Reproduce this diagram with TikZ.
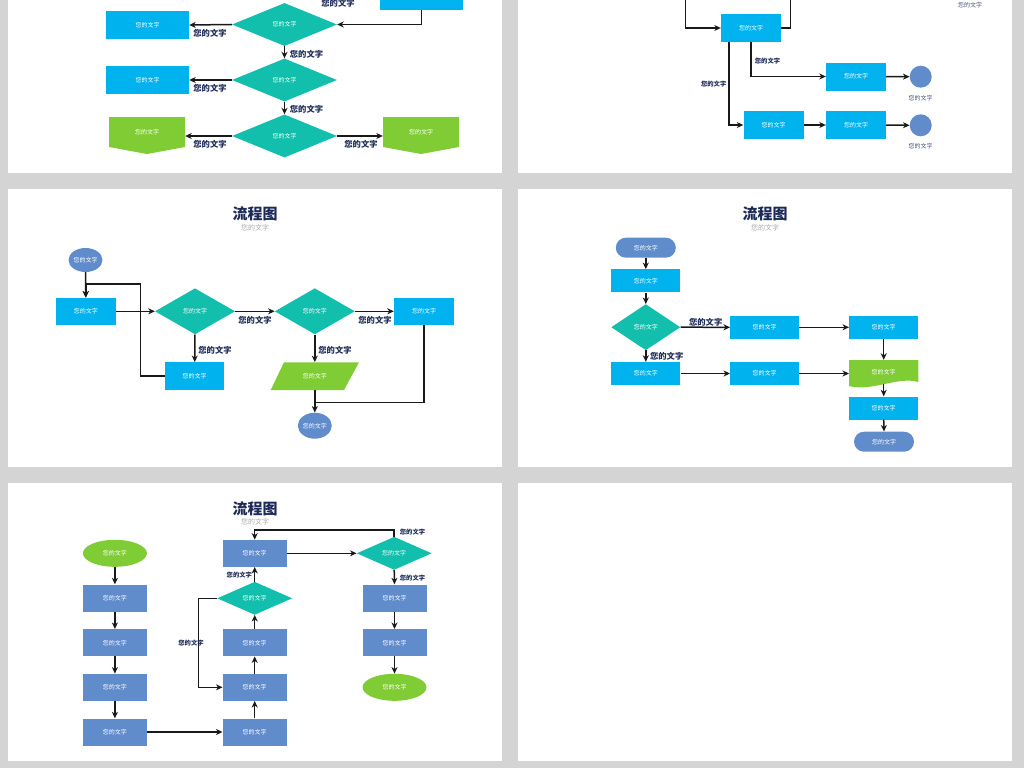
\documentclass[tikz,border=0pt]{standalone}
\usepackage{fontspec}
\newfontfamily\cjk{Noto Sans CJK SC}
\usetikzlibrary{shapes.geometric,arrows.meta}
\definecolor{bggray}{RGB}{212,212,212}
\definecolor{boxcyan}{RGB}{0,178,238}
\definecolor{diateal}{RGB}{18,190,172}
\definecolor{leafgreen}{RGB}{128,204,52}
\definecolor{steelblue}{RGB}{96,140,204}
\definecolor{inknavy}{RGB}{28,42,88}
\definecolor{subgray}{RGB}{170,170,170}

\begin{document}
\begin{tikzpicture}[x=1pt, y=-1pt, >={Stealth[length=6.5pt,width=6pt,inset=2pt]},
  process/.style ={rectangle, fill=boxcyan, text=white, inner sep=0pt,
    minimum width=60pt, minimum height=28pt, font=\cjk\fontsize{6}{7}\selectfont},
  stepblue/.style ={process, fill=steelblue, minimum width=64pt, minimum height=27pt},
  decision/.style ={diamond, fill=diateal, text=white, inner sep=0pt,
    minimum width=80pt, minimum height=46pt, font=\cjk\fontsize{6}{7}\selectfont},
  startstop/.style ={ellipse, fill=steelblue, text=white, inner sep=0pt,
    font=\cjk\fontsize{6}{7}\selectfont},
  terminal/.style ={process, fill=steelblue, rounded corners=10pt,
    minimum width=60pt, minimum height=20pt},
  textonly/.style ={inner sep=0pt, text=white, font=\cjk\fontsize{6}{7}\selectfont},
  lbl/.style ={inner sep=0pt, text=inknavy, font=\cjk\bfseries\fontsize{8.3}{9}\selectfont},
  lblsmall/.style ={inner sep=0pt, text=inknavy, font=\cjk\bfseries\fontsize{6.3}{7}\selectfont},
  note/.style ={inner sep=0pt, text=inknavy!80, font=\cjk\fontsize{6}{7}\selectfont},
  flow/.style ={line width=1.5pt, draw=black!90}]
 \useasboundingbox (0,0) rectangle (1024,768);
 \clip (0,0) rectangle (1024,768);
 \fill[bggray] (0,0) rectangle (1024,768);
 % panels
 \fill[white] (8,-5) rectangle (502,173);
 \fill[white] (518,-5) rectangle (1012,173);
 \fill[white] (8,189) rectangle (502,466.5);
 \fill[white] (518,189) rectangle (1012,466.5);
 \fill[white] (8,483) rectangle (502,760.5);
 \fill[white] (518,483) rectangle (1012,760.5);

 % panel A (top left)
 \node[process, minimum width=83pt] (TR) at (421.5,-4) {};
 \node[decision, minimum width=105pt, minimum height=43pt] (DA1) at (284.5,24.5) {您的文字};
 \node[process, minimum width=83pt] (RA1) at (147.5,25) {您的文字};
 \node[decision, minimum width=105pt, minimum height=43pt] (DA2) at (284.5,80) {您的文字};
 \node[process, minimum width=83pt] (RA2) at (147.5,80) {您的文字};
 \node[decision, minimum width=105pt, minimum height=43pt] (DA3) at (284.5,136) {您的文字};
 \fill[leafgreen] (109,117) -- (185,117) -- (185,147) -- (147,154) -- (109,147) -- cycle;
 \fill[leafgreen] (383,117) -- (459,117) -- (459,147) -- (421,154) -- (383,147) -- cycle;
 \node[textonly, minimum width=76pt, minimum height=30pt] (GA1) at (147,132) {您的文字};
 \node[textonly, minimum width=76pt, minimum height=30pt] (GA2) at (421,132) {您的文字};
 \draw[flow, ->] (TR.south) |- (DA1.east);
 \draw[flow, ->] (DA1.west) -- (RA1.east);
 \draw[flow, ->] (DA1.south) -- (DA2.north);
 \draw[flow, ->] (DA2.west) -- (RA2.east);
 \draw[flow, ->] (DA2.south) -- (DA3.north);
 \draw[flow, ->] (DA3.west) -- (DA3.west -| GA1.east);
 \draw[flow, ->] (DA3.east) -- (DA3.east -| GA2.west);
 \node[lbl] (la1) at (338,3) {您的文字};
 \node[lbl] (la2) at (210,33.3) {您的文字};
 \node[lbl] (la3) at (306.5,54) {您的文字};
 \node[lbl] (la4) at (210,88.3) {您的文字};
 \node[lbl] (la5) at (306.5,109) {您的文字};
 \node[lbl] (la6) at (210,144) {您的文字};
 \node[lbl] (la7) at (361,144) {您的文字};

 % panel B (top right)
 \coordinate (bin) at (685.7,-5);
 \coordinate (bout) at (790.7,-5);
 \node[process] (MB) at (751,28) {您的文字};
 \node[process] (RB1) at (856,76.5) {您的文字};
 \node[process] (BB1) at (773.5,125) {您的文字};
 \node[process] (BB2) at (856,125) {您的文字};
 \node[circle, fill=steelblue, minimum size=22pt, inner sep=0pt] (CB1) at (920.7,76.7) {};
 \node[circle, fill=steelblue, minimum size=22pt, inner sep=0pt] (CB2) at (920.7,125.3) {};
 \draw[flow, ->] (bin) |- (MB.west);
 \draw[flow] (MB.east) -| (bout);
 \draw[flow, ->] (MB.south) |- (RB1.west);
 \draw[flow, ->] ([xshift=-22pt]MB.south) |- (BB1.west);
 \draw[flow, ->] (RB1.east) -- (CB1.west);
 \draw[flow, ->] (BB1.east) -- (BB2.west);
 \draw[flow, ->] (BB2.east) -- (CB2.west);
 \node[note] (nb0) at (970,5) {您的文字};
 \node[note] (nb1) at (920.7,97.7) {您的文字};
 \node[note] (nb2) at (920.7,146) {您的文字};
 \node[lblsmall] (lb1) at (767.5,60.7) {您的文字};
 \node[lblsmall] (lb2) at (713.7,84.3) {您的文字};

 % panel C (middle left)
 \node[inner sep=0pt, text=inknavy, font=\cjk\bfseries\fontsize{15}{16}\selectfont] (TC) at (255,213.3) {流程图};
 \node[inner sep=0pt, text=subgray, font=\cjk\fontsize{7}{8}\selectfont] (SC) at (255,227.7) {您的文字};
 \node[startstop, minimum width=32pt, minimum height=24pt] (EC1) at (85.5,260) {您的文字};
 \node[process, minimum height=27pt] (C1) at (85.8,311.3) {您的文字};
 \node[decision] (D1) at (195,311.3) {您的文字};
 \node[process, minimum width=59pt] (C2) at (194.7,376.2) {您的文字};
 \node[decision] (D2) at (314.8,311.3) {您的文字};
 \node[process, minimum height=27pt] (C3) at (424,311.3) {您的文字};
 \fill[leafgreen] (284,362.3) -- (359,362.3) -- (344,390) -- (270.7,390) -- cycle;
 \node[textonly, minimum width=75pt, minimum height=27.7pt] (PC) at (314.8,376.2) {您的文字};
 \node[startstop, minimum width=33pt, minimum height=26pt] (EC2) at (314.8,425.7) {您的文字};
 \coordinate (kc) at (140.3,284);
 \coordinate (kd) at (314.8,402.3);
 \draw[flow, ->] (EC1.south) -- (C1.north);
 \draw[flow, ->] (C2.west) -| (kc) -| (C1.north);
 \draw[flow, ->] (C1.east) -- (D1.west);
 \draw[flow, ->] (D1.south) -- (C2.north);
 \draw[flow, ->] (D1.east) -- (D2.west);
 \draw[flow, ->] (D2.east) -- (C3.west);
 \draw[flow, ->] (D2.south) -- (PC.north);
 \draw[flow, ->] (PC.south) -- (EC2.north);
 \draw[flow] (C3.south) |- (kd);
 \node[lbl] (lc1) at (215,350) {您的文字};
 \node[lbl] (lc2) at (255,320) {您的文字};
 \node[lbl] (lc3) at (375,320) {您的文字};
 \node[lbl] (lc4) at (335,350) {您的文字};

 % panel D (middle right)
 \node[inner sep=0pt, text=inknavy, font=\cjk\bfseries\fontsize{15}{16}\selectfont] (TD) at (765,213.3) {流程图};
 \node[inner sep=0pt, text=subgray, font=\cjk\fontsize{7}{8}\selectfont] (SD) at (765,227.7) {您的文字};
 \node[terminal] (T1) at (645.8,247.7) {您的文字};
 \node[process, minimum width=69pt, minimum height=23pt] (P1) at (645.8,280.8) {您的文字};
 \node[decision, minimum width=69pt] (DD) at (645.8,327.2) {您的文字};
 \node[process, minimum width=69pt, minimum height=23pt] (R1) at (764.7,327.3) {您的文字};
 \node[process, minimum width=69pt, minimum height=23pt] (R2) at (883.7,327.3) {您的文字};
 \node[process, minimum width=69pt, minimum height=23pt] (L2) at (645.8,373.5) {您的文字};
 \node[process, minimum width=69pt, minimum height=23pt] (M2) at (764.7,373.5) {您的文字};
 \fill[leafgreen] (849,360) -- (918.3,360) -- (918.3,382) .. controls (898,376) and (872,392) .. (849,386) -- cycle;
 \node[textonly, minimum width=69pt, minimum height=24pt] (DOC) at (883.7,372) {您的文字};
 \node[process, minimum width=69pt, minimum height=23pt] (P4) at (883.7,408) {您的文字};
 \node[terminal] (T2) at (884,441.7) {您的文字};
 \draw[flow, ->] (T1.south) -- (P1.north);
 \draw[flow, ->] (P1.south) -- (DD.north);
 \draw[flow, ->] (DD.east) -- (R1.west);
 \draw[flow, ->] (R1.east) -- (R2.west);
 \draw[flow, ->] (DD.south) -- (L2.north);
 \draw[flow, ->] (L2.east) -- (M2.west);
 \draw[flow, ->] (M2.east) -- (M2.east -| DOC.west);
 \draw[flow, ->] (R2.south) -- (DOC.north);
 \draw[flow, ->] (DOC.south) -- (P4.north);
 \draw[flow, ->] (P4.south) -- (T2.north);
 \node[lbl] (ld1) at (705.7,322.3) {您的文字};
 \node[lbl] (ld2) at (666.7,356.7) {您的文字};

 % panel E (bottom left)
 \node[inner sep=0pt, text=inknavy, font=\cjk\bfseries\fontsize{15}{16}\selectfont] (TE) at (255,508.3) {流程图};
 \node[inner sep=0pt, text=subgray, font=\cjk\fontsize{7}{8}\selectfont] (SE) at (255,521.7) {您的文字};
 \node[startstop, fill=leafgreen, minimum width=64pt, minimum height=27pt] (GE1) at (114.9,553.3) {您的文字};
 \node[stepblue] (E1) at (114.9,598) {您的文字};
 \node[stepblue] (E2) at (114.9,642.7) {您的文字};
 \node[stepblue] (E3) at (114.9,687.3) {您的文字};
 \node[stepblue] (E4) at (114.9,732) {您的文字};
 \node[stepblue] (F1) at (254.7,732) {您的文字};
 \node[stepblue] (F2) at (254.7,687.3) {您的文字};
 \node[stepblue] (F3) at (254.7,642.7) {您的文字};
 \node[decision, minimum width=75pt, minimum height=33pt] (FD) at (254.7,598.3) {您的文字};
 \node[stepblue] (F4) at (254.7,553.3) {您的文字};
 \node[decision, minimum width=75pt, minimum height=33pt] (GD) at (394.2,553.3) {您的文字};
 \node[stepblue] (H1) at (394.5,598) {您的文字};
 \node[stepblue] (H2) at (394.5,642.7) {您的文字};
 \node[startstop, fill=leafgreen, minimum width=64pt, minimum height=27pt] (GE2) at (394.5,687.3) {您的文字};
 \draw[flow, ->] (GE1.south) -- (E1.north);
 \draw[flow, ->] (E1.south) -- (E2.north);
 \draw[flow, ->] (E2.south) -- (E3.north);
 \draw[flow, ->] (E3.south) -- (E4.north);
 \draw[flow, ->] (E4.east) -- (F1.west);
 \draw[flow, ->] (F1.north) -- (F2.south);
 \draw[flow, ->] (F2.north) -- (F3.south);
 \draw[flow, ->] (F3.north) -- (FD.south);
 \draw[flow, ->] (FD.north) -- (F4.south);
 \draw[flow, ->] (FD.west) -- ++(-18.7,0) |- (F2.west);
 \draw[flow, ->] (F4.east) -- (GD.west);
 \draw[flow, ->] (GD.north) -- ++(0,-6.7) -| (F4.north);
 \draw[flow, ->] (GD.south) -- (H1.north);
 \draw[flow, ->] (H1.south) -- (H2.north);
 \draw[flow, ->] (H2.south) -- (GE2.north);
 \node[lblsmall] (le1) at (239.3,575) {您的文字};
 \node[lblsmall] (le2) at (191,643.3) {您的文字};
 \node[lblsmall] (le3) at (412.5,531.7) {您的文字};
 \node[lblsmall] (le4) at (412.5,577.7) {您的文字};
\end{tikzpicture}
\end{document}
